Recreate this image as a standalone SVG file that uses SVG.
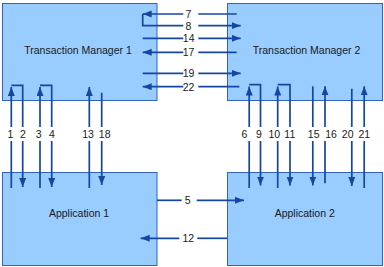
<svg xmlns="http://www.w3.org/2000/svg" width="384" height="267" viewBox="0 0 384 267">
<defs>
<style>
.box{fill:#99CCFF;stroke:#3362C2;stroke-width:1}
.lbl{font-family:"Liberation Sans",Arial,sans-serif;font-size:10.5px;fill:#1a1a1a;text-anchor:middle}
.c path{fill:none;stroke:#16479E;stroke-width:1.7}
.c path.a{marker-end:url(#ah)}
</style>
<marker id="ah" markerUnits="userSpaceOnUse" markerWidth="10" markerHeight="8" refX="9" refY="3.5" orient="auto">
<path d="M0,0 L9,3.5 L0,7 z" fill="#16479E"/>
</marker>
</defs>
<rect width="384" height="267" fill="#fff"/>
<g id="tm1"><rect class="box" x="2.5" y="3.5" width="154.5" height="97"/><text class="lbl" x="78" y="54">Transaction Manager 1</text></g>
<g id="tm2"><rect class="box" x="227.5" y="3.5" width="155" height="97"/><text class="lbl" x="306.5" y="54">Transaction Manager 2</text></g>
<g id="app1"><rect class="box" x="2.5" y="172.5" width="154.5" height="93"/><text class="lbl" x="79" y="217">Application 1</text></g>
<g id="app2"><rect class="box" x="227.5" y="172.5" width="155" height="93"/><text class="lbl" x="304.7" y="217">Application 2</text></g>
<g id="connectors" class="c">
<g id="c7"><path d="M236.7 14 H198.3"/><path class="a" d="M183.3 14 H142.7"/><text class="lbl" x="188.3" y="17.8">7</text></g>
<g id="c8"><path d="M142.7 14 V25.7 H183.3"/><path class="a" d="M198.3 25.7 H240.7"/><text class="lbl" x="188.3" y="29.5">8</text></g>
<g id="c14"><path d="M142.7 38.3 H183.3"/><path class="a" d="M198.3 38.3 H240.7"/><text class="lbl" x="188.7" y="42.1">14</text></g>
<g id="c17"><path d="M236.7 52.3 H198.3"/><path class="a" d="M183.3 52.3 H142.7"/><text class="lbl" x="188.5" y="56.1">17</text></g>
<g id="c19"><path d="M142.7 73.3 H183.3"/><path class="a" d="M198.3 73.3 H240.7"/><text class="lbl" x="188.5" y="77.1">19</text></g>
<g id="c22"><path d="M239.3 86.7 H198.3"/><path class="a" d="M183.3 86.7 H142.7"/><text class="lbl" x="188.5" y="90.5">22</text></g>
<g id="c5"><path d="M157 200.3 H181.7"/><path class="a" d="M196.7 200.3 H244"/><text class="lbl" x="187.7" y="204.1">5</text></g>
<g id="c12"><path d="M227 238.3 H197.3"/><path class="a" d="M179.3 238.3 H140.7"/><text class="lbl" x="188.3" y="242.1">12</text></g>
<g id="c1"><path d="M11.3 188 V141"/><path class="a" d="M11.3 127 V87"/><text class="lbl" x="10.3" y="138.4">1</text></g>
<g id="c2"><path d="M11.3 85.3 H22.7 V127"/><path class="a" d="M22.7 141 V187"/><text class="lbl" x="22.8" y="138.4">2</text></g>
<g id="c3"><path d="M40 188 V141"/><path class="a" d="M40 127 V87"/><text class="lbl" x="38.7" y="138.4">3</text></g>
<g id="c4"><path d="M40 85.3 H51.7 V127"/><path class="a" d="M51.7 141 V187"/><text class="lbl" x="52" y="138.4">4</text></g>
<g id="c13"><path d="M89.3 188 V141"/><path class="a" d="M89.3 127 V87"/><text class="lbl" x="88" y="138.4">13</text></g>
<g id="c18"><path d="M101.7 92.7 V127"/><path class="a" d="M101.7 141 V185"/><text class="lbl" x="104.7" y="138.4">18</text></g>
<g id="c6"><path d="M249.2 188 V141"/><path class="a" d="M249.2 127 V86.5"/><text class="lbl" x="244.5" y="138.4">6</text></g>
<g id="c9"><path d="M249.2 84.7 H260.5 V127"/><path class="a" d="M260.5 141 V185.5"/><text class="lbl" x="258.8" y="138.4">9</text></g>
<g id="c10"><path d="M277.7 188 V141"/><path class="a" d="M277.7 127 V86.5"/><text class="lbl" x="274.3" y="138.4">10</text></g>
<g id="c11"><path d="M277.7 84.7 H290 V127"/><path class="a" d="M290 141 V185.5"/><text class="lbl" x="289.8" y="138.4">11</text></g>
<g id="c15"><path d="M312.8 86.3 V127"/><path class="a" d="M312.8 141 V185.5"/><text class="lbl" x="313.7" y="138.4">15</text></g>
<g id="c16"><path d="M325 183.3 V141"/><path class="a" d="M325 127 V86.3"/><text class="lbl" x="331" y="138.4">16</text></g>
<g id="c20"><path d="M351.8 88.7 V127"/><path class="a" d="M351.8 141 V186"/><text class="lbl" x="347.7" y="138.4">20</text></g>
<g id="c21"><path d="M364.2 188 V141"/><path class="a" d="M364.2 127 V86.3"/><text class="lbl" x="364.3" y="138.4">21</text></g>
</g>
</svg>
